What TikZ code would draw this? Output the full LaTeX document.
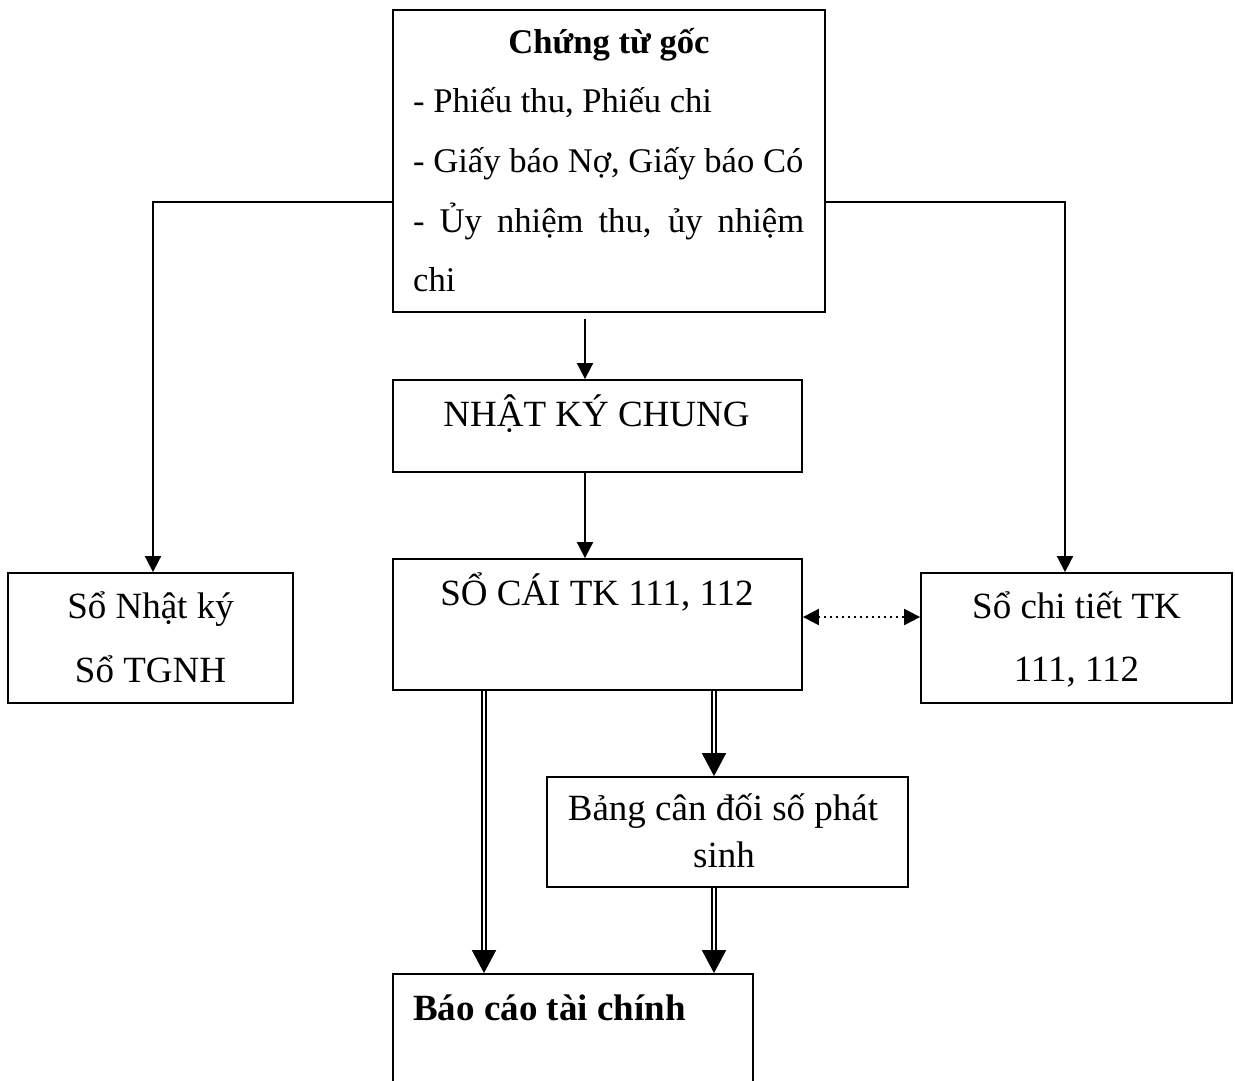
\documentclass[tikz,border=0pt]{standalone}
\usepackage{fontspec}
\setmainfont{Liberation Serif}
\usetikzlibrary{arrows.meta}
\begin{document}
\begin{tikzpicture}[x=1pt,y=-1pt,
  box/.style={draw, line width=1.8pt, rectangle, inner sep=0pt},
  txt/.style={inner sep=0pt, font=\fontsize{37}{44}\selectfont},
  doctxt/.style={inner sep=0pt, font=\fontsize{34.6}{44}\selectfont},
  arr/.style={line width=1.8pt, -{Triangle[width=16pt,length=16pt]}},
  dotarr/.style={line width=2pt, dash pattern=on 2pt off 4pt,
    {Triangle[width=16pt,length=16pt]}-{Triangle[width=16pt,length=16pt]}},
  dblarr/.style={double, double distance=2.6pt, line width=1.8pt,
    -{Triangle[width=24pt,length=23pt]}}]

\useasboundingbox (0,0) rectangle (1235,1080);
\clip (0,0) rectangle (1235,1080);

% boxes
\node[box, minimum width=432pt, minimum height=302pt] (goc) at (609,161) {};
\node[box, minimum width=409pt, minimum height=92pt] (nkc) at (597.5,426) {};
\node[box, minimum width=409pt, minimum height=131pt] (socai) at (597.5,624.5) {};
\node[box, minimum width=285pt, minimum height=130pt] (snk) at (150.5,638) {};
\node[box, minimum width=311pt, minimum height=130pt] (sct) at (1076.5,638) {};
\node[box, minimum width=361pt, minimum height=110pt] (bang) at (727.5,832) {};
\node[box, minimum width=360pt, minimum height=136pt] (bctc) at (573,1042) {};

% source documents
\node[doctxt, anchor=base] (goc-t) at (609,53) {\bfseries Chứng từ gốc};
\node[doctxt, anchor=base west] (goc-a) at (413,112) {- Phiếu thu, Phiếu chi};
\node[doctxt, anchor=base west] (goc-b) at (413,172) {- Giấy báo Nợ, Giấy báo Có};
\node[doctxt, anchor=base west] (goc-c) at (413,232) {\makebox[391pt][s]{- Ủy nhiệm thu, ủy nhiệm}};
\node[doctxt, anchor=base west] (goc-d) at (413,291) {chi};

% book labels
\node[txt, anchor=base] (nkc-t) at (596.5,426) {NHẬT KÝ CHUNG};
\node[txt, anchor=base] (socai-t) at (597,605) {SỔ CÁI TK 111, 112};
\node[txt, anchor=base] (snk-a) at (150.5,618) {Sổ Nhật ký};
\node[txt, anchor=base] (snk-b) at (150.5,682) {Sổ TGNH};
\node[txt, anchor=base] (sct-a) at (1076.5,618) {Sổ chi tiết TK};
\node[txt, anchor=base] (sct-b) at (1076.5,681) {111, 112};
\node[txt, anchor=base] (bang-a) at (723,820) {Bảng cân đối số phát};
\node[txt, anchor=base] (bang-b) at (724,867) {sinh};
\node[txt, anchor=base west] (bctc-t) at (413,1020) {\bfseries Báo cáo tài chính};

% connectors
\draw[arr] ([yshift=-41pt]goc.west) -| ([xshift=2.5pt]snk.north);
\draw[arr] ([yshift=-41pt]goc.east) -| ([xshift=-11.5pt]sct.north);
\draw[arr, shorten <=6pt] ([xshift=-24pt]goc.south) -- ([xshift=-24pt]goc.south |- nkc.north);
\draw[arr] ([xshift=-12.5pt]nkc.south) -- ([xshift=-12.5pt]nkc.south |- socai.north);
\draw[dotarr] ([yshift=7.5pt]socai.east) -- ([yshift=7.5pt]socai.east -| sct.west);
\draw[dblarr] ([xshift=-113.5pt]socai.south) -- ([xshift=-113.5pt]socai.south |- bctc.north);
\draw[dblarr] ([xshift=116.5pt]socai.south) -- ([xshift=116.5pt]socai.south |- bang.north);
\draw[dblarr] ([xshift=-13.5pt]bang.south) -- ([xshift=-13.5pt]bang.south |- bctc.north);
\end{tikzpicture}
\end{document}
